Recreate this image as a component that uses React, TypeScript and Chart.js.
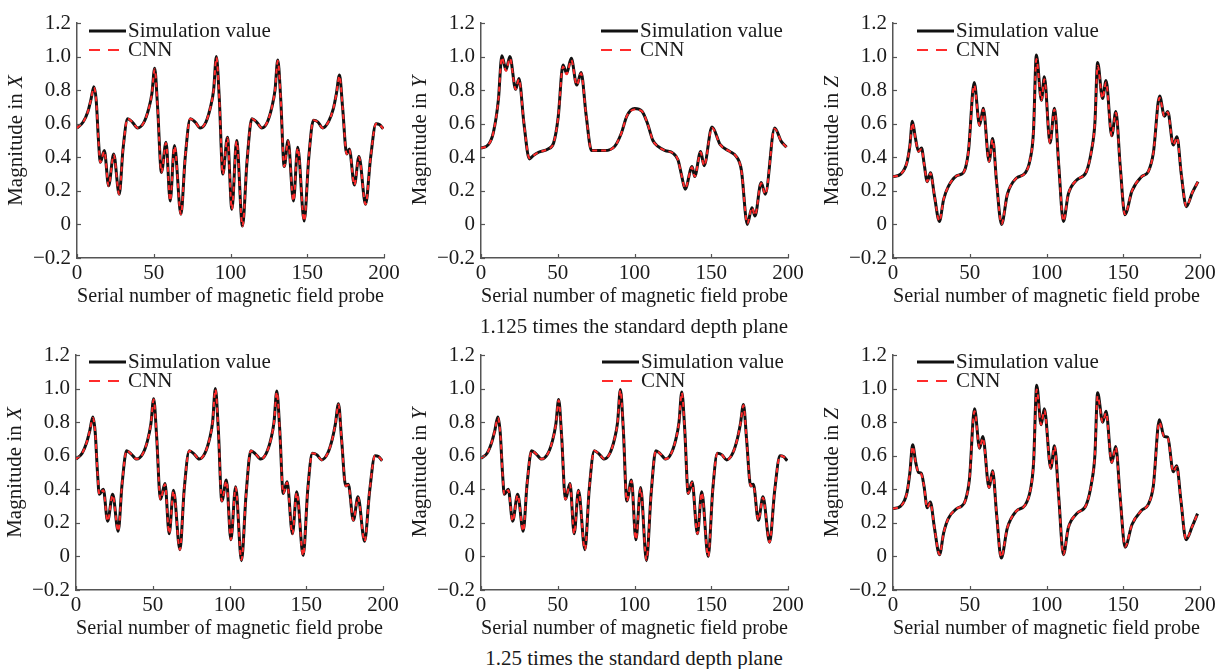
import React, { useEffect, useRef } from "react";
import { Chart, registerables } from "chart.js";

Chart.register(...registerables);

const FONT = "'Liberation Serif', 'Times New Roman', serif";
const AXIS_COLOR = "#555555";
const TEXT_COLOR = "#1a1a1a";
const SIM_COLOR = "#111111";
const CNN_COLOR = "#ff2b2b";

// ---------- tick labels ----------
const xTickValues = [0, 50, 100, 150, 200];
const yTickLabels = ["\u22120.2", "0", "0.2", "0.4", "0.6", "0.8", "1.0", "1.2"];
const legendLabels = ["Simulation value", "CNN"];
const xTitle = "Serial number of magnetic field probe";
const captionTop = "1.125 times the standard depth plane";
const captionBottom = "1.25 times the standard depth plane";

// ---------- 1.125 plane, X ----------
const probeTopX = [0, 4, 7, 9, 11, 12.5, 14, 15.2, 17.8, 20.6, 23.9, 27.5, 30, 33, 36, 39.5, 43.4, 46.6, 48.8, 50.6, 52.5, 55, 58, 60.7, 63.5, 67.7, 70.5, 73.8, 77, 80.3, 84, 87, 89, 90.8, 92.7, 95, 98, 100.9, 104, 107.8, 110.8, 113.9, 117, 120.4, 124, 127, 129, 130.8, 132.7, 135, 137.5, 141, 143.8, 148, 151, 154, 157, 160, 164, 167, 169, 171, 173, 175.7, 177.4, 180.7, 183.7, 188, 191.3, 194.8, 197, 199.5];
const simTopX = [0.575, 0.61, 0.67, 0.74, 0.82, 0.74, 0.5, 0.37, 0.44, 0.23, 0.42, 0.18, 0.45, 0.63, 0.61, 0.575, 0.605, 0.685, 0.78, 0.93, 0.7, 0.31, 0.49, 0.14, 0.47, 0.06, 0.4, 0.63, 0.61, 0.575, 0.61, 0.7, 0.8, 1.0, 0.75, 0.3, 0.52, 0.09, 0.5, -0.01, 0.38, 0.63, 0.61, 0.575, 0.61, 0.7, 0.8, 0.98, 0.75, 0.345, 0.5, 0.14, 0.46, 0.02, 0.4, 0.62, 0.61, 0.575, 0.615, 0.69, 0.78, 0.89, 0.7, 0.42, 0.45, 0.235, 0.405, 0.12, 0.4, 0.6, 0.595, 0.57];
const cnnTopX = [0.575, 0.61, 0.67, 0.74, 0.815, 0.74, 0.5, 0.37, 0.435, 0.23, 0.415, 0.18, 0.45, 0.63, 0.61, 0.575, 0.605, 0.685, 0.78, 0.925, 0.7, 0.31, 0.485, 0.14, 0.465, 0.06, 0.4, 0.63, 0.61, 0.575, 0.61, 0.7, 0.8, 0.995, 0.75, 0.3, 0.515, 0.09, 0.495, -0.01, 0.38, 0.63, 0.61, 0.575, 0.61, 0.7, 0.8, 0.975, 0.75, 0.345, 0.495, 0.14, 0.455, 0.02, 0.4, 0.62, 0.61, 0.575, 0.615, 0.69, 0.78, 0.885, 0.7, 0.42, 0.445, 0.235, 0.4, 0.12, 0.4, 0.6, 0.595, 0.57];

// ---------- 1.125 plane, Y ----------
const probeTopY = [0, 4.8, 8, 11.3, 13.6, 16.3, 18.8, 22.6, 24.7, 28, 31.5, 34, 37.5, 43.7, 47.3, 50.3, 53.4, 55.8, 58.8, 62.4, 65.2, 68.5, 72, 80.5, 87.1, 91.5, 95, 100.1, 104.8, 108.5, 112, 115.3, 120, 125, 128.3, 130.5, 133, 137.5, 139.2, 143.1, 145.3, 150.5, 155.9, 162, 166.3, 169.6, 173.5, 176.5, 178.5, 182.5, 185.2, 191.3, 195.6, 199];
const simTopY = [0.455, 0.475, 0.545, 0.74, 1.005, 0.92, 1.0, 0.805, 0.87, 0.6, 0.39, 0.41, 0.43, 0.45, 0.485, 0.64, 0.95, 0.9, 0.99, 0.83, 0.905, 0.65, 0.44, 0.44, 0.465, 0.545, 0.645, 0.69, 0.675, 0.6, 0.5, 0.465, 0.44, 0.425, 0.385, 0.3, 0.21, 0.345, 0.285, 0.435, 0.35, 0.58, 0.475, 0.435, 0.405, 0.325, 0.0, 0.1, 0.05, 0.25, 0.18, 0.575, 0.495, 0.46];
const cnnTopY = [0.455, 0.475, 0.545, 0.74, 0.995, 0.915, 0.99, 0.805, 0.865, 0.6, 0.395, 0.41, 0.43, 0.45, 0.485, 0.64, 0.94, 0.895, 0.98, 0.83, 0.9, 0.65, 0.44, 0.44, 0.465, 0.545, 0.645, 0.685, 0.675, 0.6, 0.5, 0.465, 0.44, 0.425, 0.385, 0.3, 0.215, 0.34, 0.285, 0.43, 0.35, 0.575, 0.475, 0.435, 0.405, 0.325, 0.005, 0.1, 0.055, 0.245, 0.18, 0.57, 0.495, 0.46];

// ---------- 1.125 plane, Z ----------
const probeTopZ = [0, 5, 9.1, 11, 12.6, 14.5, 16.6, 18.6, 20.3, 22.3, 24.4, 27, 30.2, 33, 36, 41.5, 44.7, 47, 49.2, 52.9, 56.4, 58.8, 62.6, 64.9, 67.5, 70.7, 74.5, 80.3, 86, 89.3, 91.5, 93.4, 96.7, 98.6, 102.3, 105.2, 108, 111, 114.2, 119.7, 126, 129.4, 131.5, 133.3, 136.5, 138.8, 142.5, 145.2, 148, 151.1, 155.7, 162, 166.3, 169.6, 173.7, 176.8, 179, 182.6, 185, 187.8, 191.1, 195, 198.7];
const simTopZ = [0.285, 0.3, 0.37, 0.47, 0.615, 0.52, 0.435, 0.455, 0.36, 0.255, 0.308, 0.17, 0.018, 0.15, 0.225, 0.29, 0.3, 0.33, 0.44, 0.845, 0.59, 0.692, 0.375, 0.512, 0.25, 0.0, 0.18, 0.275, 0.305, 0.385, 0.55, 1.01, 0.74, 0.88, 0.485, 0.692, 0.35, 0.018, 0.18, 0.265, 0.315, 0.445, 0.6, 0.965, 0.75, 0.858, 0.528, 0.673, 0.35, 0.058, 0.2, 0.285, 0.315, 0.425, 0.765, 0.645, 0.673, 0.473, 0.523, 0.3, 0.106, 0.19, 0.255];
const cnnTopZ = [0.285, 0.3, 0.37, 0.47, 0.605, 0.52, 0.435, 0.45, 0.36, 0.255, 0.305, 0.17, 0.02, 0.15, 0.225, 0.29, 0.3, 0.33, 0.44, 0.83, 0.59, 0.685, 0.375, 0.505, 0.25, 0.003, 0.18, 0.275, 0.305, 0.385, 0.55, 0.985, 0.74, 0.865, 0.485, 0.685, 0.35, 0.02, 0.18, 0.265, 0.315, 0.445, 0.6, 0.945, 0.75, 0.845, 0.528, 0.665, 0.35, 0.06, 0.2, 0.285, 0.315, 0.425, 0.755, 0.645, 0.668, 0.473, 0.518, 0.3, 0.108, 0.19, 0.255];

// ---------- 1.25 plane, X ----------
const probeBottomX = [0, 4, 7, 9, 11, 12.5, 14, 15.2, 17.8, 20.6, 23.9, 27.5, 30, 33, 36, 39.5, 43.4, 46.6, 48.8, 50.6, 52.5, 55, 58, 60.7, 63.5, 67.7, 70.5, 73.8, 77, 80.3, 84, 87, 89, 90.8, 92.7, 95, 98, 100.9, 104, 107.8, 110.8, 113.9, 117, 120.4, 124, 127, 129, 130.8, 132.7, 135, 137.5, 141, 143.8, 148, 151, 154, 157, 160, 164, 167, 169, 171, 173, 175.7, 177.4, 180.7, 183.7, 188, 191.3, 194.8, 197, 199.5];
const simBottomX = [0.58, 0.615, 0.68, 0.75, 0.83, 0.74, 0.5, 0.37, 0.4, 0.21, 0.37, 0.15, 0.43, 0.63, 0.61, 0.58, 0.61, 0.69, 0.79, 0.94, 0.72, 0.34, 0.435, 0.135, 0.395, 0.04, 0.4, 0.63, 0.61, 0.58, 0.615, 0.7, 0.8, 1.0, 0.76, 0.33, 0.455, 0.1, 0.415, -0.025, 0.37, 0.63, 0.61, 0.58, 0.615, 0.7, 0.8, 0.985, 0.76, 0.375, 0.445, 0.135, 0.385, 0.005, 0.4, 0.615, 0.605, 0.575, 0.615, 0.7, 0.79, 0.91, 0.7, 0.42, 0.43, 0.215, 0.355, 0.09, 0.39, 0.6, 0.595, 0.57];
const cnnBottomX = [0.58, 0.615, 0.68, 0.75, 0.825, 0.74, 0.5, 0.37, 0.395, 0.21, 0.365, 0.15, 0.43, 0.63, 0.61, 0.58, 0.61, 0.69, 0.79, 0.935, 0.72, 0.34, 0.43, 0.135, 0.39, 0.04, 0.4, 0.63, 0.61, 0.58, 0.615, 0.7, 0.8, 0.995, 0.76, 0.33, 0.45, 0.1, 0.41, -0.02, 0.37, 0.63, 0.61, 0.58, 0.615, 0.7, 0.8, 0.98, 0.76, 0.375, 0.44, 0.135, 0.38, 0.005, 0.4, 0.615, 0.605, 0.575, 0.615, 0.7, 0.79, 0.905, 0.7, 0.42, 0.425, 0.215, 0.35, 0.09, 0.39, 0.6, 0.595, 0.57];

// ---------- 1.25 plane, Y ----------
const probeBottomY = [0, 4, 7, 9, 11, 12.5, 14, 15.2, 17.8, 20.6, 23.9, 27.5, 30, 33, 36, 39.5, 43.4, 46.6, 48.8, 50.6, 52.5, 55, 58, 60.7, 63.5, 67.7, 70.5, 73.8, 77, 80.3, 84, 87, 89, 90.8, 92.7, 95, 98, 100.9, 104, 107.8, 110.8, 113.9, 117, 120.4, 124, 127, 129, 130.8, 132.7, 135, 137.5, 141, 143.8, 148, 151, 154, 157, 160, 164, 167, 169, 171, 173, 175.7, 177.4, 180.7, 183.7, 188, 191.3, 194.8, 197, 199.5];
const simBottomY = [0.585, 0.615, 0.68, 0.75, 0.83, 0.74, 0.5, 0.37, 0.4, 0.21, 0.37, 0.15, 0.43, 0.63, 0.61, 0.58, 0.61, 0.69, 0.79, 0.935, 0.72, 0.34, 0.435, 0.135, 0.395, 0.04, 0.4, 0.63, 0.61, 0.58, 0.615, 0.7, 0.8, 0.995, 0.76, 0.33, 0.455, 0.1, 0.41, -0.025, 0.37, 0.63, 0.61, 0.58, 0.615, 0.7, 0.8, 0.98, 0.76, 0.375, 0.445, 0.135, 0.385, 0.0, 0.4, 0.615, 0.605, 0.575, 0.615, 0.7, 0.79, 0.905, 0.7, 0.42, 0.43, 0.215, 0.355, 0.085, 0.39, 0.6, 0.595, 0.57];
const cnnBottomY = [0.585, 0.615, 0.68, 0.75, 0.825, 0.74, 0.5, 0.37, 0.395, 0.21, 0.365, 0.15, 0.43, 0.63, 0.61, 0.58, 0.61, 0.69, 0.79, 0.93, 0.72, 0.34, 0.43, 0.135, 0.39, 0.04, 0.4, 0.63, 0.61, 0.58, 0.615, 0.7, 0.8, 0.99, 0.76, 0.33, 0.45, 0.1, 0.405, -0.02, 0.37, 0.63, 0.61, 0.58, 0.615, 0.7, 0.8, 0.975, 0.76, 0.375, 0.44, 0.135, 0.38, 0.0, 0.4, 0.615, 0.605, 0.575, 0.615, 0.7, 0.79, 0.9, 0.7, 0.42, 0.425, 0.215, 0.35, 0.085, 0.39, 0.6, 0.595, 0.57];

// ---------- 1.25 plane, Z ----------
const probeBottomZ = [0, 5, 9.1, 11, 12.8, 14.8, 16.6, 18.4, 20.2, 22.3, 24.3, 27, 30.3, 33, 36, 41.5, 44.7, 47, 49.8, 53.1, 56.4, 58.5, 62.6, 64.9, 67.5, 70.5, 74.5, 80.3, 86, 89.6, 91.6, 93.6, 96.5, 98.6, 102.8, 105.2, 108, 111, 114.2, 119.7, 126, 129.4, 131.5, 133.3, 136.6, 138.8, 142.5, 145.1, 148, 151.2, 155.7, 162, 166.3, 169.6, 173.5, 176.6, 179, 182.6, 184.8, 187.6, 190.9, 195, 198.4];
const simBottomZ = [0.285, 0.3, 0.38, 0.5, 0.665, 0.56, 0.5, 0.495, 0.42, 0.29, 0.325, 0.17, 0.01, 0.14, 0.225, 0.285, 0.3, 0.33, 0.46, 0.88, 0.645, 0.715, 0.41, 0.51, 0.25, -0.01, 0.17, 0.27, 0.305, 0.4, 0.56, 1.02, 0.785, 0.88, 0.525, 0.66, 0.35, 0.01, 0.17, 0.255, 0.31, 0.44, 0.6, 0.975, 0.8, 0.865, 0.56, 0.655, 0.35, 0.055, 0.19, 0.275, 0.31, 0.42, 0.815, 0.715, 0.71, 0.505, 0.54, 0.33, 0.1, 0.18, 0.255];
const cnnBottomZ = [0.285, 0.3, 0.38, 0.5, 0.655, 0.56, 0.5, 0.49, 0.42, 0.29, 0.32, 0.17, 0.012, 0.14, 0.225, 0.285, 0.3, 0.33, 0.46, 0.865, 0.645, 0.705, 0.41, 0.505, 0.25, -0.005, 0.17, 0.27, 0.305, 0.4, 0.56, 0.995, 0.785, 0.87, 0.525, 0.655, 0.35, 0.012, 0.17, 0.255, 0.31, 0.44, 0.6, 0.955, 0.8, 0.855, 0.56, 0.65, 0.35, 0.058, 0.19, 0.275, 0.31, 0.42, 0.8, 0.715, 0.705, 0.505, 0.535, 0.33, 0.102, 0.18, 0.255];

// ---------- layout ----------
const CANVAS_W = 402;
const CANVAS_H = 308;
const AXIS_W = 75;
const PLOT_W = 307;
const PLOT_H = 235;
const TOP_PAD = 23;
const RIGHT_PAD = CANVAS_W - AXIS_W - PLOT_W;
const XAXIS_H = CANVAS_H - TOP_PAD - PLOT_H;
const FONT_SIZE = 21;

type PanelDef = {
  left: number;
  top: number;
  letter: string;
  legendOffset: number;
  legendTop: number;
  probe: number[];
  sim: number[];
  cnn: number[];
};

const panels: PanelDef[] = [
  { left: 2, top: 0, letter: "X", legendOffset: 12, legendTop: 8, probe: probeTopX, sim: simTopX, cnn: cnnTopX },
  { left: 406, top: 0, letter: "Y", legendOffset: 120, legendTop: 8, probe: probeTopY, sim: simTopY, cnn: cnnTopY },
  { left: 818, top: 0, letter: "Z", legendOffset: 24, legendTop: 8, probe: probeTopZ, sim: simTopZ, cnn: cnnTopZ },
  { left: 1, top: 332, letter: "X", legendOffset: 13, legendTop: 7, probe: probeBottomX, sim: simBottomX, cnn: cnnBottomX },
  { left: 406, top: 332, letter: "Y", legendOffset: 121, legendTop: 7, probe: probeBottomY, sim: simBottomY, cnn: cnnBottomY },
  { left: 818, top: 332, letter: "Z", legendOffset: 24, legendTop: 7, probe: probeBottomZ, sim: simBottomZ, cnn: cnnBottomZ },
];

function yLabel(v: number): string {
  const idx = Math.round((v + 0.2) / 0.2);
  return yTickLabels[idx] ?? "";
}

function PanelChart({ p }: { p: PanelDef }) {
  const ref = useRef<HTMLCanvasElement | null>(null);

  useEffect(() => {
    if (!ref.current) return;

    const innerTicks = {
      id: "innerTicks",
      afterDraw(chart: any) {
        const { ctx, chartArea: a, scales } = chart;
        ctx.save();
        ctx.strokeStyle = AXIS_COLOR;
        ctx.lineWidth = 1.2;
        scales.y.ticks.forEach((t: any) => {
          const y = Math.round(scales.y.getPixelForValue(t.value)) + 0.5;
          ctx.beginPath();
          ctx.moveTo(a.left, y);
          ctx.lineTo(a.left + 4, y);
          ctx.stroke();
        });
        scales.x.ticks.forEach((t: any) => {
          const x = Math.round(scales.x.getPixelForValue(t.value)) + 0.5;
          ctx.beginPath();
          ctx.moveTo(x, a.bottom);
          ctx.lineTo(x, a.bottom - 4);
          ctx.stroke();
        });
        ctx.restore();
      },
    };

    const yTitle = {
      id: "yTitle",
      afterDraw(chart: any) {
        const { ctx, chartArea: a } = chart;
        const normal = `${FONT_SIZE}px ${FONT}`;
        const italic = `italic ${FONT_SIZE}px ${FONT}`;
        const part1 = "Magnitude in ";
        ctx.save();
        ctx.font = normal;
        const w1 = ctx.measureText(part1).width;
        ctx.font = italic;
        const w2 = ctx.measureText(p.letter).width;
        const total = w1 + w2;
        ctx.translate(a.left - 61, (a.top + a.bottom) / 2);
        ctx.rotate(-Math.PI / 2);
        ctx.fillStyle = TEXT_COLOR;
        ctx.textBaseline = "middle";
        ctx.textAlign = "left";
        ctx.font = normal;
        ctx.fillText(part1, -total / 2, 0);
        ctx.font = italic;
        ctx.fillText(p.letter, -total / 2 + w1, 0);
        ctx.restore();
      },
    };

    const legendBox = {
      id: "legendBox",
      afterDatasetsDraw(chart: any) {
        const { ctx, chartArea: a } = chart;
        const x0 = a.left + p.legendOffset;
        const x1 = x0 + 37;
        const rows = [a.top + p.legendTop, a.top + p.legendTop + 19];
        ctx.save();
        // simulation row
        ctx.strokeStyle = SIM_COLOR;
        ctx.lineWidth = 3;
        ctx.setLineDash([]);
        ctx.beginPath();
        ctx.moveTo(x0, rows[0]);
        ctx.lineTo(x1, rows[0]);
        ctx.stroke();
        // cnn row
        ctx.strokeStyle = CNN_COLOR;
        ctx.lineWidth = 2.2;
        ctx.setLineDash([11, 8]);
        ctx.beginPath();
        ctx.moveTo(x0, rows[1]);
        ctx.lineTo(x1, rows[1]);
        ctx.stroke();
        ctx.setLineDash([]);
        ctx.fillStyle = TEXT_COLOR;
        ctx.font = `${FONT_SIZE}px ${FONT}`;
        ctx.textBaseline = "middle";
        ctx.textAlign = "left";
        ctx.fillText(legendLabels[0], x1 + 2, rows[0]);
        ctx.fillText(legendLabels[1], x1 + 2, rows[1]);
        ctx.restore();
      },
    };

    const chart = new Chart(ref.current, {
      type: "line",
      data: {
        datasets: [
          {
            label: legendLabels[0],
            data: p.probe.map((x, i) => ({ x, y: p.sim[i] })),
            borderColor: SIM_COLOR,
            borderWidth: 3,
            pointRadius: 0,
            fill: false,
            cubicInterpolationMode: "monotone",
            order: 2,
          },
          {
            label: legendLabels[1],
            data: p.probe.map((x, i) => ({ x, y: p.cnn[i] })),
            borderColor: CNN_COLOR,
            borderWidth: 2,
            borderDash: [5, 4],
            pointRadius: 0,
            fill: false,
            cubicInterpolationMode: "monotone",
            order: 1,
          },
        ],
      },
      options: {
        responsive: false,
        animation: false,
        devicePixelRatio: 1,
        layout: { padding: { top: TOP_PAD, right: RIGHT_PAD, left: 0, bottom: 0 } },
        plugins: {
          legend: { display: false },
          tooltip: { enabled: false },
          title: { display: false },
        },
        scales: {
          x: {
            type: "linear",
            min: 0,
            max: 200,
            afterFit(scale: any) {
              scale.height = XAXIS_H;
            },
            afterBuildTicks(scale: any) {
              scale.ticks = xTickValues.map((v) => ({ value: v }));
            },
            ticks: {
              stepSize: 50,
              padding: 3,
              color: TEXT_COLOR,
              font: { family: FONT, size: FONT_SIZE },
              maxRotation: 0,
              autoSkip: false,
              callback: (v: any) => String(v),
            },
            grid: { display: true, drawOnChartArea: false, drawTicks: false },
            border: { display: true, color: AXIS_COLOR, width: 1.5 },
            title: {
              display: true,
              text: xTitle,
              color: TEXT_COLOR,
              font: { family: FONT, size: FONT_SIZE, lineHeight: 1.1 },
              padding: { top: 0, bottom: 0 },
            },
          },
          y: {
            type: "linear",
            min: -0.2,
            max: 1.2,
            afterFit(scale: any) {
              scale.width = AXIS_W;
            },
            ticks: {
              stepSize: 0.2,
              padding: 6,
              color: TEXT_COLOR,
              font: { family: FONT, size: FONT_SIZE },
              autoSkip: false,
              callback: (v: any) => yLabel(Number(v)),
            },
            grid: { display: true, drawOnChartArea: false, drawTicks: false },
            border: { display: true, color: AXIS_COLOR, width: 1.5 },
          },
        },
      },
      plugins: [innerTicks, yTitle, legendBox],
    } as any);

    return () => chart.destroy();
  }, [p]);

  return (
    <canvas
      ref={ref}
      width={CANVAS_W}
      height={CANVAS_H}
      style={{ position: "absolute", left: p.left, top: p.top, width: CANVAS_W, height: CANVAS_H }}
    />
  );
}

const captionStyle: React.CSSProperties = {
  position: "absolute",
  left: 434,
  width: 400,
  textAlign: "center",
  fontFamily: FONT,
  fontSize: FONT_SIZE,
  lineHeight: "24px",
  color: TEXT_COLOR,
  whiteSpace: "nowrap",
};

export default function App() {
  return (
    <div
      style={{
        position: "absolute",
        left: 0,
        top: 0,
        width: 1221,
        height: 669,
        background: "#ffffff",
        overflow: "hidden",
      }}
    >
      {panels.map((p, i) => (
        <PanelChart key={i} p={p} />
      ))}
      <div style={{ ...captionStyle, top: 314 }}>{captionTop}</div>
      <div style={{ ...captionStyle, top: 646 }}>{captionBottom}</div>
    </div>
  );
}
